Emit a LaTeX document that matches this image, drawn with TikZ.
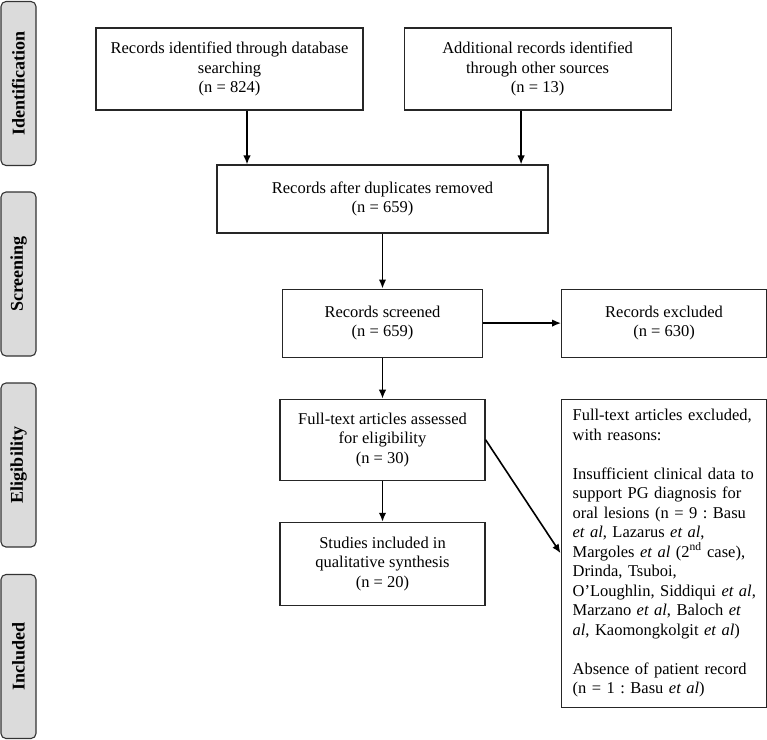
\documentclass[tikz,border=0pt]{standalone}
\usepackage{fontspec}
\setmainfont{Liberation Serif}
\usetikzlibrary{positioning, arrows.meta}

\tikzset{
  flowbox/.style={draw=black!85, line width=1.1pt, rectangle, align=center, inner sep=2pt,
    font=\fontsize{16.5}{19.5}\selectfont\frenchspacing},
  phase/.style={draw=black!80, line width=1.1pt, rounded corners=5pt, fill=black!14, rotate=90,
    minimum width=164pt, minimum height=35pt, inner sep=0pt, font=\fontsize{18}{20}\selectfont\bfseries},
}

\begin{document}
\begin{tikzpicture}[x=1pt, y=-1pt, >={Latex[length=9pt,width=7.5pt]}, line width=1.6pt]
  \useasboundingbox (0,0) rectangle (767,739);

  % Phase labels
  \node[phase] (ident) at (18.5,83.5) {Identification};
  \node[phase] (screen) at (18.5,274) {Screening};
  \node[phase] (elig) at (18.5,465) {Eligibility};
  \node[phase] (incl) at (18.5,656.5) {Included};

  % Identification
  \node[flowbox, minimum width=267pt, minimum height=82pt] (dbsearch) at (229.5,69) {Records identified through database\\searching\\(n = 824)};
  \node[flowbox, right=40pt of dbsearch, minimum width=267pt, minimum height=82pt] (othersrc) {Additional records identified\\through other sources\\(n = 13)};

  % Screening
  \node[flowbox, minimum width=331pt, minimum height=68pt] (dedup) at (382.5,199) {Records after duplicates removed\\(n = 659)};
  \node[flowbox, below=55pt of dedup, minimum width=200pt, minimum height=68pt] (screened) {Records screened\\(n = 659)};
  \node[flowbox, right=78pt of screened, minimum width=205pt, minimum height=68pt] (excluded) {Records excluded\\(n = 630)};

  % Eligibility
  \node[flowbox, below=41pt of screened, minimum width=205pt, minimum height=81pt] (fulltext) {Full-text articles assessed\\for eligibility\\(n = 30)};
  \node[flowbox, below right=0pt and 75pt of fulltext.north east, minimum width=205pt, minimum height=308pt,
        text width=194pt, align=left, inner xsep=5.5pt] (reasons) {\hspace*{6pt}Full-text articles excluded,\\\hspace*{6pt}with reasons:\\[19.5pt]
    \hspace*{6pt}Insufficient clinical data to\\\hspace*{6pt}support PG diagnosis for\\\hspace*{6pt}oral lesions (n = 9 : Basu\\\hspace*{6pt}\textit{et al}, Lazarus \textit{et al},\\
    \hspace*{6pt}Margoles \textit{et al} (2\textsuperscript{nd} case),\\\hspace*{6pt}Drinda, Tsuboi,\\\hspace*{6pt}O’Loughlin, Siddiqui \textit{et al},\\
    \hspace*{6pt}Marzano \textit{et al}, Baloch \textit{et}\\\hspace*{6pt}\textit{al}, Kaomongkolgit \textit{et al})\\[19.5pt]
    \hspace*{6pt}Absence of patient record\\\hspace*{6pt}(n = 1 : Basu \textit{et al})};

  % Included
  \node[flowbox, below=41pt of fulltext, minimum width=205pt, minimum height=83pt] (included) {Studies included in\\qualitative synthesis\\(n = 20)};

  % Arrows
  \draw[->] ([xshift=17.5pt]dbsearch.south) -- ([xshift=17.5pt]dbsearch.south |- dedup.north);
  \draw[->] ([xshift=-16.5pt]othersrc.south) -- ([xshift=-16.5pt]othersrc.south |- dedup.north);
  \draw[->] (dedup) -- (screened);
  \draw[->] (screened) -- (excluded);
  \draw[->] (screened) -- (fulltext);
  \draw[->] (fulltext) -- (included);
  \draw[->] (fulltext.east) -- (reasons.west);
\end{tikzpicture}
\end{document}
